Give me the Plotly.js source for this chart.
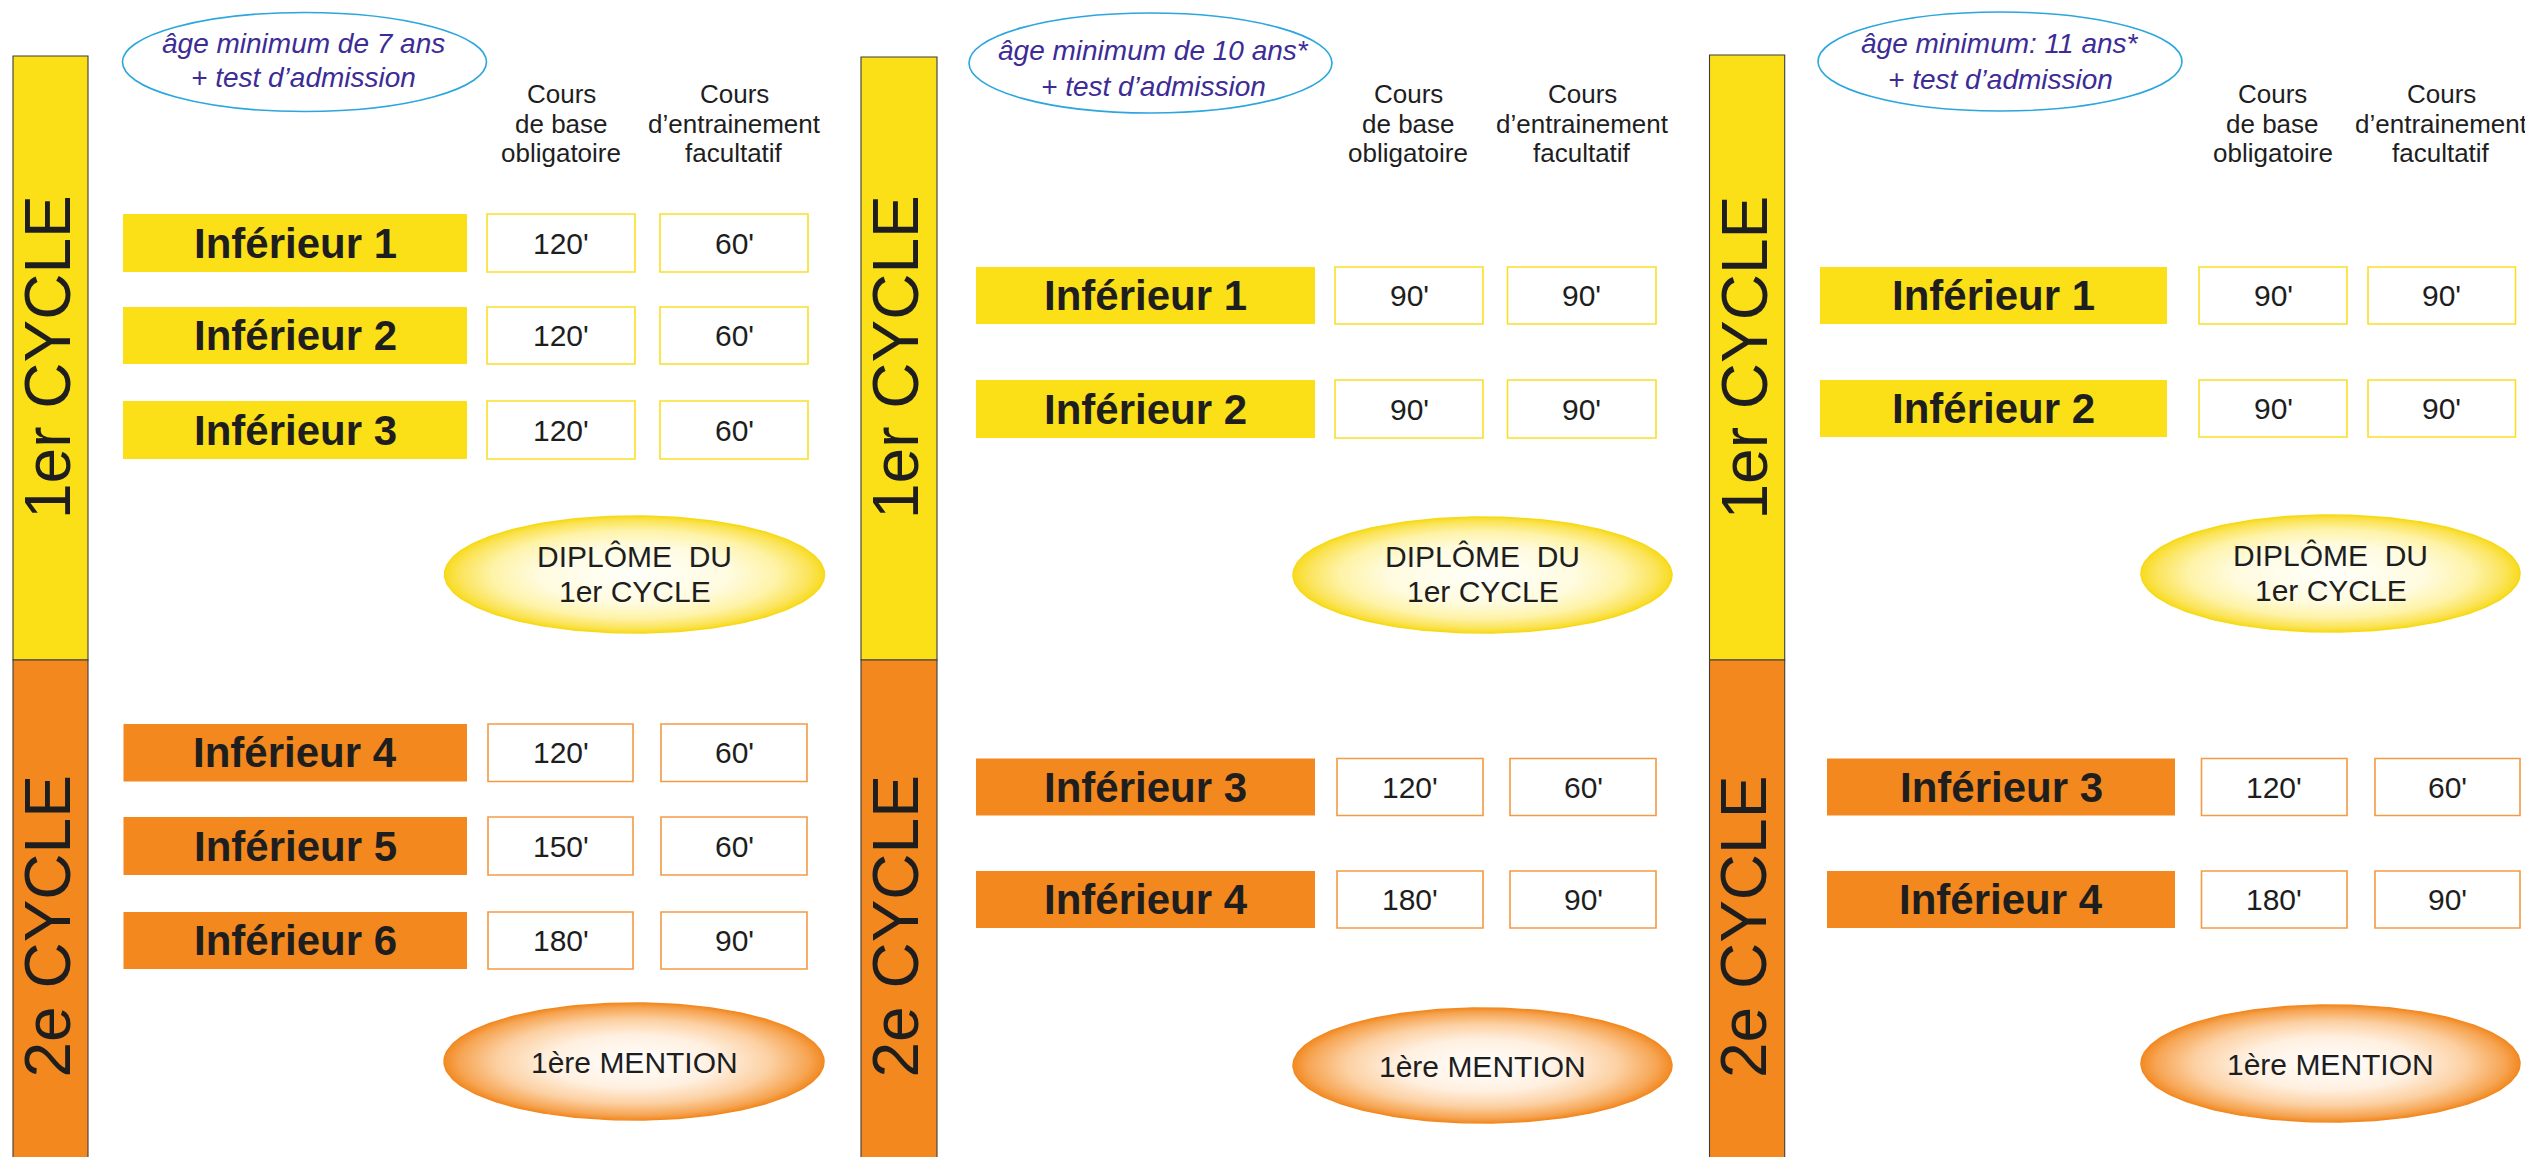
<!DOCTYPE html>
<html>
<head>
<meta charset="utf-8">
<script src="https://cdn.plot.ly/plotly-3.0.1.min.js"></script>
<style>html,body{margin:0;padding:0;background:#fff;overflow:hidden}#chart{width:2525px;height:1157px}</style>
</head>
<body>
<div id="chart"></div>
<script>
// ---------------- DATA ----------------
const ageLine1 = ["âge minimum de 7 ans", "âge minimum de 10 ans*", "âge minimum: 11 ans*"];
const ageLine2 = ["+ test d’admission", "+ test d’admission", "+ test d’admission"];
const headerBase = ["Cours", "de base", "obligatoire"];
const headerTrain = ["Cours", "d’entrainement", "facultatif"];
const cycleNames = ["1er CYCLE", "2e CYCLE"];
const diplomaLines = ["DIPLÔME  DU", "1er CYCLE"];
const mentionLabel = "1ère MENTION";

const cycle1Levels = [["Inférieur 1", "Inférieur 2", "Inférieur 3"], ["Inférieur 1", "Inférieur 2"], ["Inférieur 1", "Inférieur 2"]];
const cycle1Base   = [[120, 120, 120], [90, 90], [90, 90]];
const cycle1Train  = [[60, 60, 60], [90, 90], [90, 90]];
const cycle2Levels = [["Inférieur 4", "Inférieur 5", "Inférieur 6"], ["Inférieur 3", "Inférieur 4"], ["Inférieur 3", "Inférieur 4"]];
const cycle2Base   = [[120, 150, 180], [120, 180], [120, 180]];
const cycle2Train  = [[60, 60, 90], [60, 90], [60, 90]];

// ---------------- LAYOUT GEOMETRY ----------------
const W = 2525, H = 1157;
const SPLIT = 660;
const geo = [
  {bar: [13, 88], top: 56,
   age: {cx: 304.5, cy: 62, rx: 182, ry: 49.5, t1: 43, t2: 77.5, tx: 303},
   colX: [561, 734],
   c1: {lx: [123, 467], bx: [[487, 635], [660, 808]], ys: [[214, 272], [307, 364], [401, 459]]},
   dip: {cx: 634.5, cy: 574.5, rx: 190, ry: 58.5},
   c2: {lx: [123.5, 467], bx: [[488, 633], [661, 807]], ys: [[724, 781.5], [817, 875], [912, 969]]},
   men: {cx: 634, cy: 1061.5, rx: 190, ry: 58.5}},
  {bar: [861, 937], top: 57,
   age: {cx: 1150.5, cy: 63, rx: 181.5, ry: 50, t1: 50, t2: 86, tx: 1153},
   colX: [1408, 1582],
   c1: {lx: [976, 1315], bx: [[1335, 1483], [1507.5, 1656]], ys: [[267, 324], [380, 438]]},
   dip: {cx: 1482.5, cy: 575, rx: 189.5, ry: 58},
   c2: {lx: [976, 1315], bx: [[1337, 1483], [1510, 1656]], ys: [[758.5, 815.5], [871, 928]]},
   men: {cx: 1482.5, cy: 1065.5, rx: 189.5, ry: 57.5}},
  {bar: [1709.5, 1784.7], top: 55,
   age: {cx: 2000, cy: 61.5, rx: 182, ry: 49.5, t1: 43, t2: 79, tx: 2000},
   colX: [2272.5, 2441],
   c1: {lx: [1820, 2167], bx: [[2199, 2347], [2368, 2515.5]], ys: [[267, 324], [380, 437]]},
   dip: {cx: 2330.5, cy: 573.5, rx: 189.5, ry: 58.5},
   c2: {lx: [1827, 2175], bx: [[2201.5, 2347], [2375, 2520]], ys: [[758.5, 815.5], [871, 928]]},
   men: {cx: 2330.5, cy: 1063.5, rx: 189.5, ry: 58.5}}
];

// ---------------- STYLES ----------------
const FONT = "Liberation Sans, Arial, Helvetica, sans-serif";
const YEL = "#FBE018", ORA = "#F2881E", INK = "#1E1E1E";
const BOX1 = "#F9DF2A", BOX2 = "#F39A45";

const shapes = [], annotations = [], traces = [];

function ann(x, y, text, size, opts) {
  annotations.push(Object.assign({
    x: x, y: y, xref: "x", yref: "y", text: text, showarrow: false,
    xanchor: "center", yanchor: "middle",
    font: {family: FONT, size: size, color: INK}
  }, opts || {}));
}

function gradEllipse(e, scale, edge, label) {
  const n = 240, xs = [], ys = [];
  for (let i = 0; i <= n; i++) {
    const t = 2 * Math.PI * i / n;
    xs.push(e.cx + e.rx * Math.cos(t));
    ys.push(e.cy + e.ry * Math.sin(t));
  }
  traces.push({
    type: "scatter", mode: "lines", x: xs, y: ys, fill: "toself",
    fillgradient: {type: "radial", colorscale: scale},
    line: {color: edge, width: 1.5}, hoverinfo: "skip", showlegend: false, name: label
  });
}

function rows(g, cyc, levels, base, train, fill, boxLine) {
  levels.forEach((lv, i) => {
    const [y0, y1] = cyc.ys[i], ym = (y0 + y1) / 2;
    shapes.push({type: "rect", xref: "x", yref: "y", x0: cyc.lx[0], x1: cyc.lx[1], y0: y0, y1: y1,
                 fillcolor: fill, line: {width: 0}, layer: "below"});
    ann((cyc.lx[0] + cyc.lx[1]) / 2, ym, "<b>" + lv + "</b>", 42);
    [base[i], train[i]].forEach((v, k) => {
      const bx = cyc.bx[k];
      shapes.push({type: "rect", xref: "x", yref: "y", x0: bx[0], x1: bx[1], y0: y0, y1: y1,
                   fillcolor: "#FFFFFF", line: {color: boxLine, width: 1.6}, layer: "below"});
      ann((bx[0] + bx[1]) / 2, ym, v + "'", 30);
    });
  });
}

geo.forEach((g, p) => {
  // vertical cycle bars
  shapes.push({type: "rect", xref: "x", yref: "y", x0: g.bar[0], x1: g.bar[1], y0: g.top, y1: SPLIT,
               fillcolor: YEL, line: {color: "#3C3C3C", width: 1.1}, layer: "below"});
  shapes.push({type: "rect", xref: "x", yref: "y", x0: g.bar[0], x1: g.bar[1], y0: SPLIT, y1: H + 5,
               fillcolor: ORA, line: {color: "#3C3C3C", width: 1.1}, layer: "below"});
  const tx = g.bar[0] + 34.5;
  ann(tx, 357.5, cycleNames[0], 64, {textangle: -90});
  ann(tx, 927, cycleNames[1], 64, {textangle: -90});

  // age ellipse
  const a = g.age;
  shapes.push({type: "circle", xref: "x", yref: "y", x0: a.cx - a.rx, x1: a.cx + a.rx, y0: a.cy - a.ry, y1: a.cy + a.ry,
               line: {color: "#2BA6DE", width: 1.6}, fillcolor: "rgba(0,0,0,0)"});
  const ageFont = {family: FONT, size: 28, color: "#3D2C95"};
  ann(a.tx, a.t1, "<i>" + ageLine1[p] + "</i>", 28, {font: ageFont});
  ann(a.tx, a.t2, "<i>" + ageLine2[p] + "</i>", 28, {font: ageFont});

  // column headers
  const hy = [94, 123.5, 152.5];
  headerBase.forEach((t, i) => ann(g.colX[0], hy[i], t, 26));
  headerTrain.forEach((t, i) => ann(g.colX[1], hy[i], t, 26));

  // rows
  rows(g, g.c1, cycle1Levels[p], cycle1Base[p], cycle1Train[p], YEL, BOX1);
  rows(g, g.c2, cycle2Levels[p], cycle2Base[p], cycle2Train[p], ORA, BOX2);

  // diploma + mention ellipses
  gradEllipse(g.dip, [[0, "#FFFFFA"], [0.5, "#FFFBDF"], [0.75, "#FEF3A8"], [0.92, "#FBE45A"], [1, "#F8DB1E"]], "#F6D91A", "dip");
  ann(g.dip.cx, g.dip.cy - 18.5, diplomaLines[0], 30);
  ann(g.dip.cx, g.dip.cy + 16.5, diplomaLines[1], 30);
  gradEllipse(g.men, [[0, "#FFFFFF"], [0.45, "#FFF0E0"], [0.72, "#FCD0A2"], [0.92, "#F6A553"], [1, "#F28A24"]], "#F18A22", "men");
  ann(g.men.cx, g.men.cy + 1, mentionLabel, 30);
});

const layout = {
  width: W, height: H,
  margin: {l: 0, r: 0, t: 0, b: 0, pad: 0},
  paper_bgcolor: "#FFFFFF", plot_bgcolor: "#FFFFFF",
  xaxis: {range: [0, W], visible: false, fixedrange: true},
  yaxis: {range: [H, 0], visible: false, fixedrange: true},
  showlegend: false,
  shapes: shapes,
  annotations: annotations
};

Plotly.newPlot("chart", traces, layout, {staticPlot: true, displayModeBar: false});
</script>
</body>
</html>
